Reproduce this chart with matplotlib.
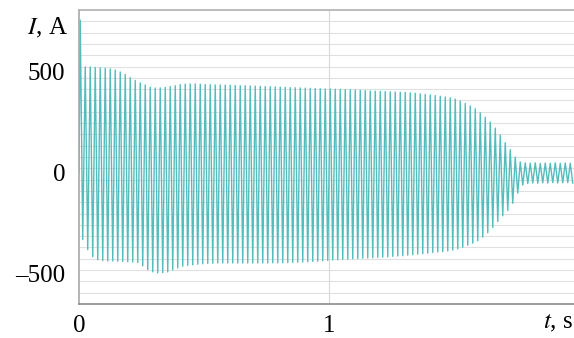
import numpy as np
import matplotlib
matplotlib.use("Agg")
import matplotlib.pyplot as plt

plt.rcParams["font.family"] = ["Liberation Serif", "DejaVu Serif"]
plt.rcParams["mathtext.fontset"] = "stix"

# Positive peak of each 50 Hz cycle, A
upper_peaks = [
    757, 525, 525, 522, 520, 518, 515, 510, 500, 488,
    472, 458, 446, 436, 424, 421, 421, 424, 428, 432,
    437, 440, 441, 441, 440, 438, 437, 436, 436, 435,
    434, 433, 432, 432, 431, 430, 429, 428, 427, 426,
    425, 424, 423, 422, 421, 420, 419, 418, 417, 416,
    416, 415, 414, 413, 412, 411, 410, 408, 406, 405,
    404, 403, 402, 401, 400, 399, 397, 395, 392, 389,
    386, 383, 380, 376, 372, 366, 356, 344, 332, 318,
    298, 276, 252, 222, 188, 150, 115, 78, 55, 50,
    48, 50, 47, 49, 48, 50, 47, 49, 48,
]
# Negative peak of each cycle, A
lower_peaks = [
    -330, -380, -415, -430, -434, -436, -436, -437, -438, -440,
    -441, -443, -460, -478, -490, -495, -494, -490, -480, -470,
    -462, -457, -455, -452, -450, -448, -447, -446, -446, -446,
    -446, -446, -446, -446, -446, -446, -446, -446, -445, -445,
    -445, -444, -443, -442, -441, -440, -438, -437, -435, -433,
    -431, -430, -428, -427, -425, -424, -422, -421, -420, -418,
    -417, -415, -413, -411, -410, -407, -405, -402, -400, -397,
    -394, -391, -390, -386, -382, -376, -368, -358, -348, -336,
    -318, -296, -270, -240, -212, -186, -150, -100, -60, -52,
    -50, -51, -49, -50, -48, -50, -49, -48, -50,
]
half_period = 0.01  # s, 50 Hz

x_ticks = [0, 1]
x_ticklabels = ["0", "1"]
y_ticks = [500, 0, -500]
y_ticklabels = ["500", "0", "–500"]

# peaks alternate: + then -, one every half period
vals = np.column_stack([upper_peaks, lower_peaks]).ravel()
t = np.arange(len(vals)) * half_period + half_period / 2
t = np.concatenate([[0], t])
vals = np.concatenate([[0], vals])

fig = plt.figure(figsize=(5.74, 3.38), dpi=100)
ax = fig.add_axes([0.1376, 0.1006, 0.8624, 0.8698])

ymin, ymax = -649, 807
for g in np.linspace(ymin, ymax, 27)[1:-1]:
    ax.axhline(g, color="#e0e0e0", lw=0.8, zorder=0)
ax.axvline(1, color="#d8d8d8", lw=0.8, zorder=0)

ax.plot(t, vals, color="#55bcbc", lw=1.0, zorder=2)

ax.set_xlim(0, 1.98)
ax.set_ylim(ymin, ymax)
ax.set_xticks(x_ticks)
ax.set_xticklabels(x_ticklabels)
ax.set_yticks(y_ticks)
ax.set_yticklabels(y_ticklabels)
ax.tick_params(length=0, labelsize=18, pad=10)
ax.tick_params(axis="x", pad=8)

ax.spines["left"].set_color("#a8a8a8")
ax.spines["top"].set_color("#b0b0b0")
ax.spines["bottom"].set_color("#8c8c8c")
for s in ["left", "bottom", "top"]:
    ax.spines[s].set_linewidth(1.2)
ax.spines["right"].set_visible(False)

fig.text(0.119, 0.918, "$I$, A", fontsize=18, ha="right", va="center")
fig.text(0.998, 0.044, "$t$, s", fontsize=18, ha="right", va="center")

fig.savefig("out.png", dpi=100)
